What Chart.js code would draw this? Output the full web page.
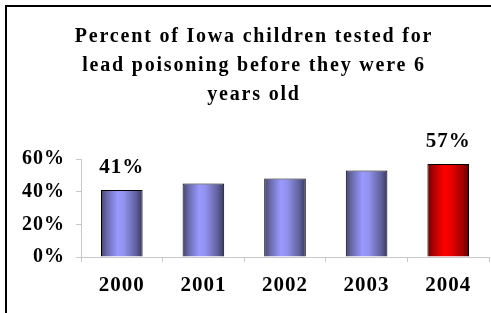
<!DOCTYPE html>
<html>
<head>
<meta charset="utf-8">
<script src="https://cdn.jsdelivr.net/npm/chart.js@4.4.1/dist/chart.umd.min.js"></script>
<style>
  html, body { margin: 0; padding: 0; background: #fff; }
  #wrap { width: 491px; height: 313px; position: relative; }
</style>
</head>
<body>
<div id="wrap"><canvas id="chart"></canvas></div>
<script>
// data
const years = ['2000', '2001', '2002', '2003', '2004'];
const percentTested = [41, 45, 48, 53, 57];
const labelledBars = [0, 4];          // bars with a value label on top
const highlightBar = 4;               // red bar
const titleLines = ['Percent of Iowa children tested for', 'lead poisoning before they were 6', 'years old'];
const yTicks = [0, 20, 40, 60];

const FONT = "'Liberation Serif', 'Times New Roman', serif";
const BAR_FRAC = 0.51;

function barGradient(ctx) {
  const chart = ctx.chart;
  const xs = chart.scales.x;
  const blue = ['#46466e', '#6b6bae', '#9999ff', '#9292ee', '#5f5f9c', '#383860'];
  const red = ['#6e0000', '#b00000', '#ff0000', '#f00000', '#a00000', '#600000'];
  const stops = ctx.dataIndex === highlightBar ? red : blue;
  if (!xs || !chart.chartArea || xs.width === 0) return stops[2];
  const cx = xs.getPixelForValue(ctx.dataIndex);
  const w = xs.width / years.length * BAR_FRAC;
  const g = chart.ctx.createLinearGradient(cx - w / 2, 0, cx + w / 2, 0);
  [0, 0.15, 0.4, 0.55, 0.85, 1].forEach((p, i) => g.addColorStop(p, stops[i]));
  return g;
}

// slightly spread text, like the original export
const spacing = {
  id: 'spacing',
  beforeDraw(chart) { chart.ctx.letterSpacing = '1px'; }
};

const frameAndTitle = {
  id: 'frameAndTitle',
  afterDraw(chart) {
    const c = chart.ctx;
    c.save();
    c.strokeStyle = '#000';
    c.lineWidth = 2;
    c.beginPath();
    c.moveTo(6, chart.height);
    c.lineTo(6, 6);
    c.lineTo(chart.width, 6);
    c.stroke();

    c.fillStyle = '#000';
    c.font = 'bold 20px ' + FONT;
    c.textAlign = 'center';
    c.textBaseline = 'middle';
    c.letterSpacing = '1.8px';
    titleLines.forEach((t, i) => c.fillText(t, 254, 37 + i * 29));

    // value labels
    const meta = chart.getDatasetMeta(0);
    c.font = 'bold 21px ' + FONT;
    c.letterSpacing = '1px';
    c.textBaseline = 'alphabetic';
    labelledBars.forEach(i => {
      const bar = meta.data[i];
      c.fillText(percentTested[i] + '%', bar.x, bar.y - 17);
    });
    c.restore();
  }
};

new Chart(document.getElementById('chart'), {
  type: 'bar',
  data: {
    labels: years,
    datasets: [{
      data: percentTested,
      backgroundColor: barGradient,
      borderColor: '#000',
      borderWidth: 1,
      categoryPercentage: 1,
      barPercentage: BAR_FRAC
    }]
  },
  options: {
    responsive: true,
    maintainAspectRatio: false,
    animation: false,
    layout: { padding: { top: 159, left: 0, right: 2, bottom: 0 } },
    plugins: { legend: { display: false }, title: { display: false }, tooltip: { enabled: false } },
    scales: {
      x: {
        afterFit: s => { s.height = 56; },
        grid: { drawOnChartArea: false, color: '#c8c8c8', tickLength: 5, offset: true },
        border: { color: '#c8c8c8' },
        ticks: { color: '#000', padding: 11, font: { family: FONT, size: 21, weight: 'bold' } }
      },
      y: {
        min: 0,
        max: 60,
        afterFit: s => { s.width = 81; },
        afterBuildTicks: s => { s.ticks = yTicks.map(v => ({ value: v })); },
        grid: { drawOnChartArea: false, color: '#c8c8c8', tickLength: 5 },
        border: { color: '#c8c8c8' },
        ticks: {
          color: '#000',
          padding: 11,
          font: { family: FONT, size: 20, weight: 'bold' },
          callback: v => v + '%'
        }
      }
    }
  },
  plugins: [spacing, frameAndTitle]
});
</script>
</body>
</html>
